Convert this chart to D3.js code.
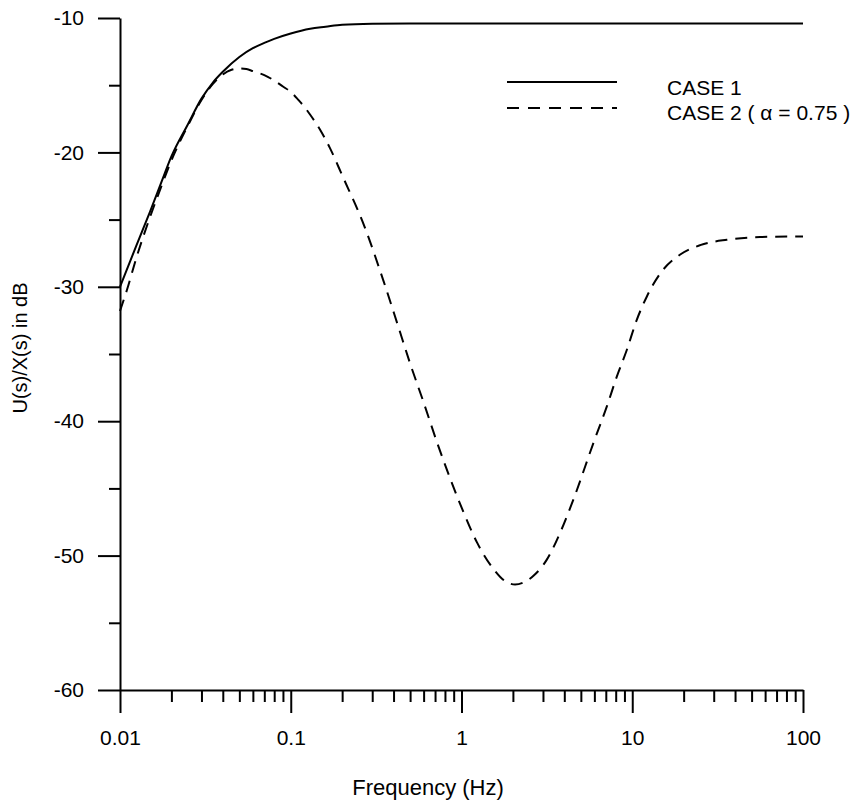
<!DOCTYPE html>
<html>
<head>
<meta charset="utf-8">
<script src="https://cdn.jsdelivr.net/npm/d3@7"></script>
<style>
  body { margin: 0; background: #fff; }
  svg text { font-family: "Liberation Sans", Arial, sans-serif; fill: #000; }
</style>
</head>
<body>
<div id="chart"></div>
<script>
(function () {

  // Data
  const case1Freq = [0.01, 0.0125, 0.015, 0.0175, 0.02, 0.025, 0.03, 0.035, 0.04, 0.05, 0.06, 0.07, 0.08, 0.1, 0.13, 0.16, 0.2, 0.3, 0.5, 1, 3, 10, 30, 100]
  const case1Db = [-30.0, -26.9, -24.4, -22.2, -20.3, -17.9, -16.0, -14.8, -14.0, -12.9, -12.25, -11.85, -11.55, -11.15, -10.8, -10.65, -10.5, -10.42, -10.4, -10.4, -10.4, -10.4, -10.4, -10.4]

  const case2Freq = [0.01, 0.011, 0.0125, 0.015, 0.0175, 0.02, 0.025, 0.03, 0.035, 0.04, 0.045, 0.05, 0.055, 0.06, 0.07, 0.08, 0.09, 0.1, 0.11, 0.12, 0.13, 0.15, 0.17, 0.2, 0.27, 0.35, 0.42, 0.5, 0.6, 0.72, 0.86, 1.03, 1.23, 1.54, 1.8, 2.06, 2.35, 2.64, 3.16, 3.78, 4.53, 5.93, 7.1, 8.11, 9.29, 10.6, 12.2, 14.6, 19.1, 25, 35.8, 56, 100]
  const case2Db = [-31.8, -30.2, -27.8, -24.8, -22.5, -20.6, -18.0, -16.1, -14.9, -14.2, -13.85, -13.75, -13.8, -13.95, -14.25, -14.65, -15.1, -15.5, -16.05, -16.6, -17.2, -18.4, -19.7, -21.7, -25.5, -29.6, -32.7, -35.7, -38.6, -41.6, -44.3, -46.8, -49.0, -51.0, -51.9, -52.15, -51.95, -51.5, -50.3, -48.3, -45.8, -41.6, -38.9, -36.7, -34.7, -32.5, -30.7, -29.0, -27.6, -26.9, -26.5, -26.3, -26.25]

  const xMajor = [0.01, 0.1, 1, 10, 100]
  const xMinor = [2, 3, 4, 5, 6, 7, 8, 9].flatMap(m => [0.01, 0.1, 1, 10].map(d => +(m * d).toPrecision(3)))
  const yMajor = [-10, -20, -30, -40, -50, -60]
  const yMinor = [-15, -25, -35, -45, -55]

  const legendLabels = ["CASE 1", "CASE 2 ( \u03B1 = 0.75 )"]

  const width = 861
  const height = 806

  const svg = d3.select("#chart").append("svg")
      .attr("width", width)
      .attr("height", height)

  // Scales
  const xScale = d3.scaleLog()
    .domain([0.01, 100])
    .range([120, 803])

  const yScale = d3.scaleLinear()
    .domain([-10, -60])
    .range([18, 690])

  // Minor ticks first, then the labelled axis on top
  svg.append("g")
    .attr("transform", "translate(0,690)")
    .call(d3.axisBottom(xScale).tickValues(xMinor).tickSize(12).tickSizeOuter(0).tickFormat(""))
    .call(g => g.select(".domain").remove())

  const xAxis = svg.append("g")
    .attr("transform", "translate(0,690)")
    .call(d3.axisBottom(xScale).tickValues(xMajor).tickSize(23).tickSizeOuter(0).tickPadding(17)
      .tickFormat(d => String(d)))
  xAxis.selectAll("text").attr("font-size", 21)

  svg.append("g")
    .attr("transform", "translate(120,0)")
    .call(d3.axisLeft(yScale).tickValues(yMinor).tickSize(11).tickSizeOuter(0).tickFormat(""))
    .call(g => g.select(".domain").remove())

  // plain hyphen for the minus sign, as in the original
  const yAxis = svg.append("g")
    .attr("transform", "translate(120,0)")
    .call(d3.axisLeft(yScale).tickValues(yMajor).tickSize(22).tickSizeOuter(0).tickPadding(14)
      .tickFormat(d => String(d)))
  yAxis.selectAll("text").attr("font-size", 21)

  svg.selectAll(".domain, .tick line")
    .attr("stroke", "#000")
    .attr("stroke-width", 2)
  svg.selectAll(".tick text").attr("font-family", "Liberation Sans, Arial, sans-serif")

  // Axis titles
  svg.append("text")
    .attr("x", 428)
    .attr("y", 795)
    .attr("text-anchor", "middle")
    .attr("font-size", 22)
    .text("Frequency (Hz)")

  svg.append("text")
    .attr("transform", "translate(27,348) rotate(-90)")
    .attr("text-anchor", "middle")
    .attr("font-size", 20)
    .text("U(s)/X(s) in dB")

  // Curves
  const line = d3.line()
    .x(d => xScale(d[0]))
    .y(d => yScale(d[1]))
    .curve(d3.curveMonotoneX)

  const case1 = d3.zip(case1Freq, case1Db)
  const case2 = d3.zip(case2Freq, case2Db)

  svg.append("path")
    .datum(case1)
    .attr("d", line)
    .attr("fill", "none")
    .attr("stroke", "#000")
    .attr("stroke-width", 2)

  svg.append("path")
    .datum(case2)
    .attr("d", line)
    .attr("fill", "none")
    .attr("stroke", "#000")
    .attr("stroke-width", 2)
    .attr("stroke-dasharray", "12,8")

  // Legend
  const legend = svg.append("g")
  const dashes = [null, "12,9"]
  legendLabels.forEach((label, i) => {
    legend.append("line")
      .attr("x1", 507).attr("x2", 617)
      .attr("y1", 82 + i * 26).attr("y2", 82 + i * 26)
      .attr("stroke", "#000")
      .attr("stroke-width", 2)
      .attr("stroke-dasharray", dashes[i])
    legend.append("text")
      .attr("x", 667)
      .attr("y", 95 + i * 25)
      .attr("font-size", 21)
      .text(label)
  })

})();
</script>
</body>
</html>
